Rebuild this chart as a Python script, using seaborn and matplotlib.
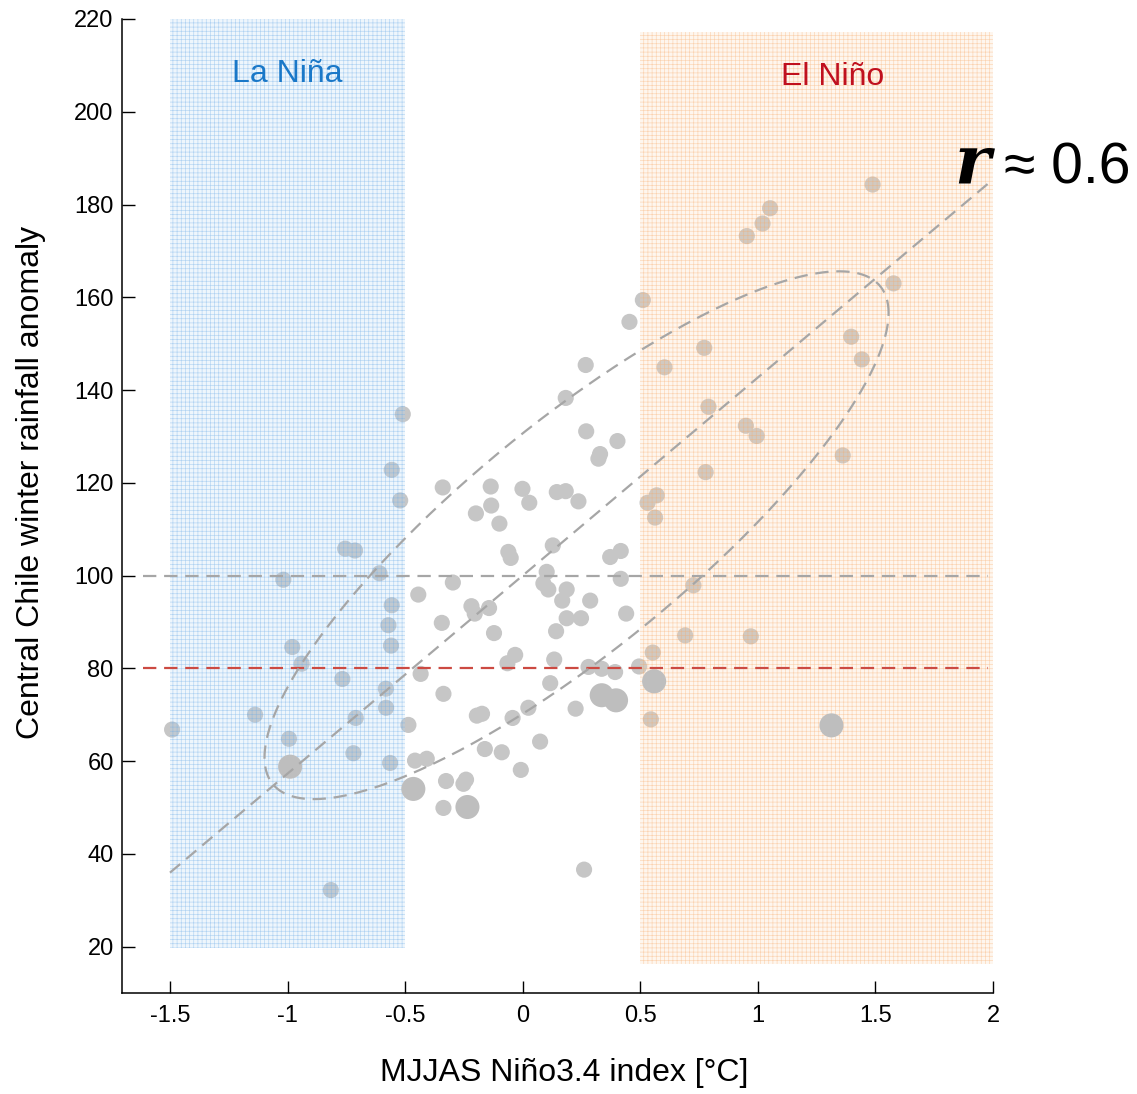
import numpy as np
import pandas as pd
import matplotlib
matplotlib.use("Agg")
import matplotlib.pyplot as plt
from matplotlib.patches import Rectangle
import seaborn as sns

# ---------------- data ----------------
nino34_small = [-1.491, -1.138, -1.018, -0.980, -0.940, -0.994, -0.767, -0.710, -0.720, -0.582,
                -0.581, -0.564, -0.571, -0.560, -0.816, -0.755, -0.713, -0.609, -0.557, -0.557,
                -0.521, -0.510, -0.444, -0.486, -0.458, -0.408, -0.337, -0.337, -0.340, -0.136,
                -0.001, 0.145, 0.183, 0.028, 0.237, -0.134, -0.199, -0.099, 0.128, -0.061,
                -0.051, 0.372, 0.417, 0.102, 0.088, 0.109, 0.417, -0.297, 0.187, 0.168,
                0.287, 0.440, -0.218, -0.204, -0.143, -0.344, 0.187, 0.248, 0.142, -0.122,
                -0.032, -0.065, 0.134, 0.280, 0.336, 0.393, -0.434, 0.117, -0.195, -0.173,
                0.024, 0.225, -0.043, 0.545, -0.161, -0.089, 0.074, -0.008, -0.326, -0.241,
                -0.252, 0.261, 1.488, 1.052, 1.020, 0.953, 1.577, 0.511, 0.454, 1.397,
                1.442, 0.772, 0.603, 0.268, 0.183, 0.790, 0.949, 0.995, 0.270, 0.403,
                0.329, 0.322, 1.361, 0.778, 0.570, 0.531, 0.563, 0.726, 0.691, 0.970,
                0.553, 0.495]
rain_small = [66.8, 70.0, 99.1, 84.6, 81.0, 64.8, 77.7, 69.3, 61.7, 75.6,
              71.5, 59.6, 89.3, 84.9, 32.2, 105.8, 105.4, 100.5, 93.6, 122.8,
              116.2, 134.8, 95.9, 67.8, 60.1, 60.5, 74.5, 49.9, 119.0, 119.2,
              118.7, 118.0, 118.2, 115.7, 116.0, 115.1, 113.4, 111.2, 106.5, 105.1,
              103.8, 104.0, 105.3, 100.8, 98.3, 97.0, 99.3, 98.5, 97.0, 94.6,
              94.6, 91.8, 93.4, 91.8, 93.0, 89.8, 90.8, 90.8, 88.0, 87.6,
              82.9, 81.1, 81.9, 80.3, 79.9, 79.2, 78.8, 76.8, 69.8, 70.2,
              71.5, 71.3, 69.3, 69.0, 62.6, 61.9, 64.2, 58.1, 55.7, 56.0,
              55.1, 36.6, 184.3, 179.2, 175.9, 173.2, 163.0, 159.4, 154.7, 151.5,
              146.6, 149.1, 144.9, 145.4, 138.3, 136.4, 132.3, 130.1, 131.1, 129.0,
              126.2, 125.2, 125.9, 122.3, 117.3, 115.7, 112.5, 97.9, 87.1, 86.9,
              83.4, 80.4]
nino34_large = [-0.989, -0.465, -0.235, 0.336, 0.397, 0.559, 1.313]
rain_large = [58.8, 54.0, 50.1, 74.2, 73.1, 77.2, 67.7]

reg_slope = 42.7
reg_intercept = 100.0
reg_range = (-1.5, 1.98)
ellipse_center = (0.229, 108.7)
ellipse_sd = (1.327, 56.9)
ellipse_rho = 0.842
mean_level = 100
threshold_level = 80
hline_range = (-1.615, 1.98)

xticks = [-1.5, -1, -0.5, 0, 0.5, 1, 1.5, 2]
xtick_labels = ["-1.5", "-1", "-0.5", "0", "0.5", "1", "1.5", "2"]
yticks = [20, 40, 60, 80, 100, 120, 140, 160, 180, 200, 220]

df_small = pd.DataFrame({"nino": nino34_small, "rain": rain_small})
df_large = pd.DataFrame({"nino": nino34_large, "rain": rain_large})

# ---------------- figure ----------------
sns.set_style("ticks")
plt.rcParams["font.family"] = ["Liberation Sans", "DejaVu Sans"]
plt.rcParams["hatch.linewidth"] = 0.45

fig = plt.figure(figsize=(11.37, 10.94), dpi=100)
ax = fig.add_axes([122 / 1137, 1 - 993 / 1094, (993 - 122) / 1137, (993 - 19) / 1094])

dot_color = "#c6c6c6"
sns.scatterplot(data=df_small, x="nino", y="rain", ax=ax, s=135, color=dot_color,
                edgecolor="none", linewidth=0, zorder=2, legend=False)

# shaded ENSO regions (drawn over the small dots)
blue_fill = (0.70, 0.84, 0.96, 0.22)
blue_hatch = (0.40, 0.66, 0.90, 0.45)
orange_fill = (0.99, 0.84, 0.70, 0.22)
orange_hatch = (0.97, 0.66, 0.40, 0.45)
lanina = (-1.5, 19.6, 1.0, 200.4)
elnino = (0.5, 16.3, 1.5, 200.9)
for (x0, y0, w, h), fc, hc in [(lanina, blue_fill, blue_hatch), (elnino, orange_fill, orange_hatch)]:
    ax.add_patch(Rectangle((x0, y0), w, h, facecolor=fc, edgecolor="none", lw=0, zorder=3))
    ax.add_patch(Rectangle((x0, y0), w, h, facecolor="none", edgecolor=hc, lw=0,
                           hatch="++++", zorder=3))

sns.scatterplot(data=df_large, x="nino", y="rain", ax=ax, s=300, color="#bebebe",
                edgecolor="none", linewidth=0, zorder=4, legend=False)

# reference lines
dash_kw = dict(lw=1.6, dashes=(6, 3.5), zorder=5)
ax.plot(hline_range, [mean_level, mean_level], color="#a6a6a6", **dash_kw)
ax.plot(hline_range, [threshold_level, threshold_level], color="#cc4a42", **dash_kw)

xr = np.array(reg_range)
ax.plot(xr, reg_intercept + reg_slope * xr, color="#a6a6a6", **dash_kw)

t = np.linspace(0, 2 * np.pi, 400)
sx, sy = ellipse_sd
cov = np.array([[sx ** 2, ellipse_rho * sx * sy], [ellipse_rho * sx * sy, sy ** 2]])
L = np.linalg.cholesky(cov)
pts = L @ np.vstack([np.cos(t), np.sin(t)])
ax.plot(ellipse_center[0] + pts[0], ellipse_center[1] + pts[1], color="#a6a6a6", **dash_kw)

# labels
ax.text(-1.0, 208.2, "La Niña", color="#1a78c8", fontsize=23, ha="center", va="center", zorder=6)
ax.text(1.316, 207.6, "El Niño", color="#c0101e", fontsize=23, ha="center", va="center", zorder=6)
ax.text(1.835, 184.5, "r", fontsize=49, fontweight="bold", fontstyle="italic", color="black",
        family=["DejaVu Serif"], ha="left", va="baseline", clip_on=False, zorder=6)
ax.text(2.047, 184.5, "≈ 0.6", fontsize=41, color="black", ha="left", va="baseline",
        clip_on=False, zorder=6)

ax.set_xlim(-1.704, 2.0)
ax.set_ylim(10, 220)
ax.set_xticks(xticks)
ax.set_xticklabels(xtick_labels)
ax.set_yticks(yticks)
ax.tick_params(direction="in", length=9, width=1, labelsize=17, colors="black",
               labelcolor="black")
ax.tick_params(axis="y", pad=6)
ax.tick_params(axis="x", pad=9)
for side in ["top", "right"]:
    ax.spines[side].set_visible(False)
for side in ["left", "bottom"]:
    ax.spines[side].set_color("black")
    ax.spines[side].set_linewidth(1.1)

ax.set_xlabel("MJJAS Niño3.4 index [°C]", fontsize=23, color="black")
ax.set_ylabel("Central Chile winter rainfall anomaly", fontsize=23, color="black")
ax.xaxis.set_label_coords((564 - 122) / 871, -(1073 - 993) / 974)
ax.yaxis.set_label_coords(-(122 - 31) / 871, (993 - 482) / 974)
ax.xaxis.label.set_va("center")
ax.yaxis.label.set_va("center")

fig.savefig("out.png", dpi=100)
